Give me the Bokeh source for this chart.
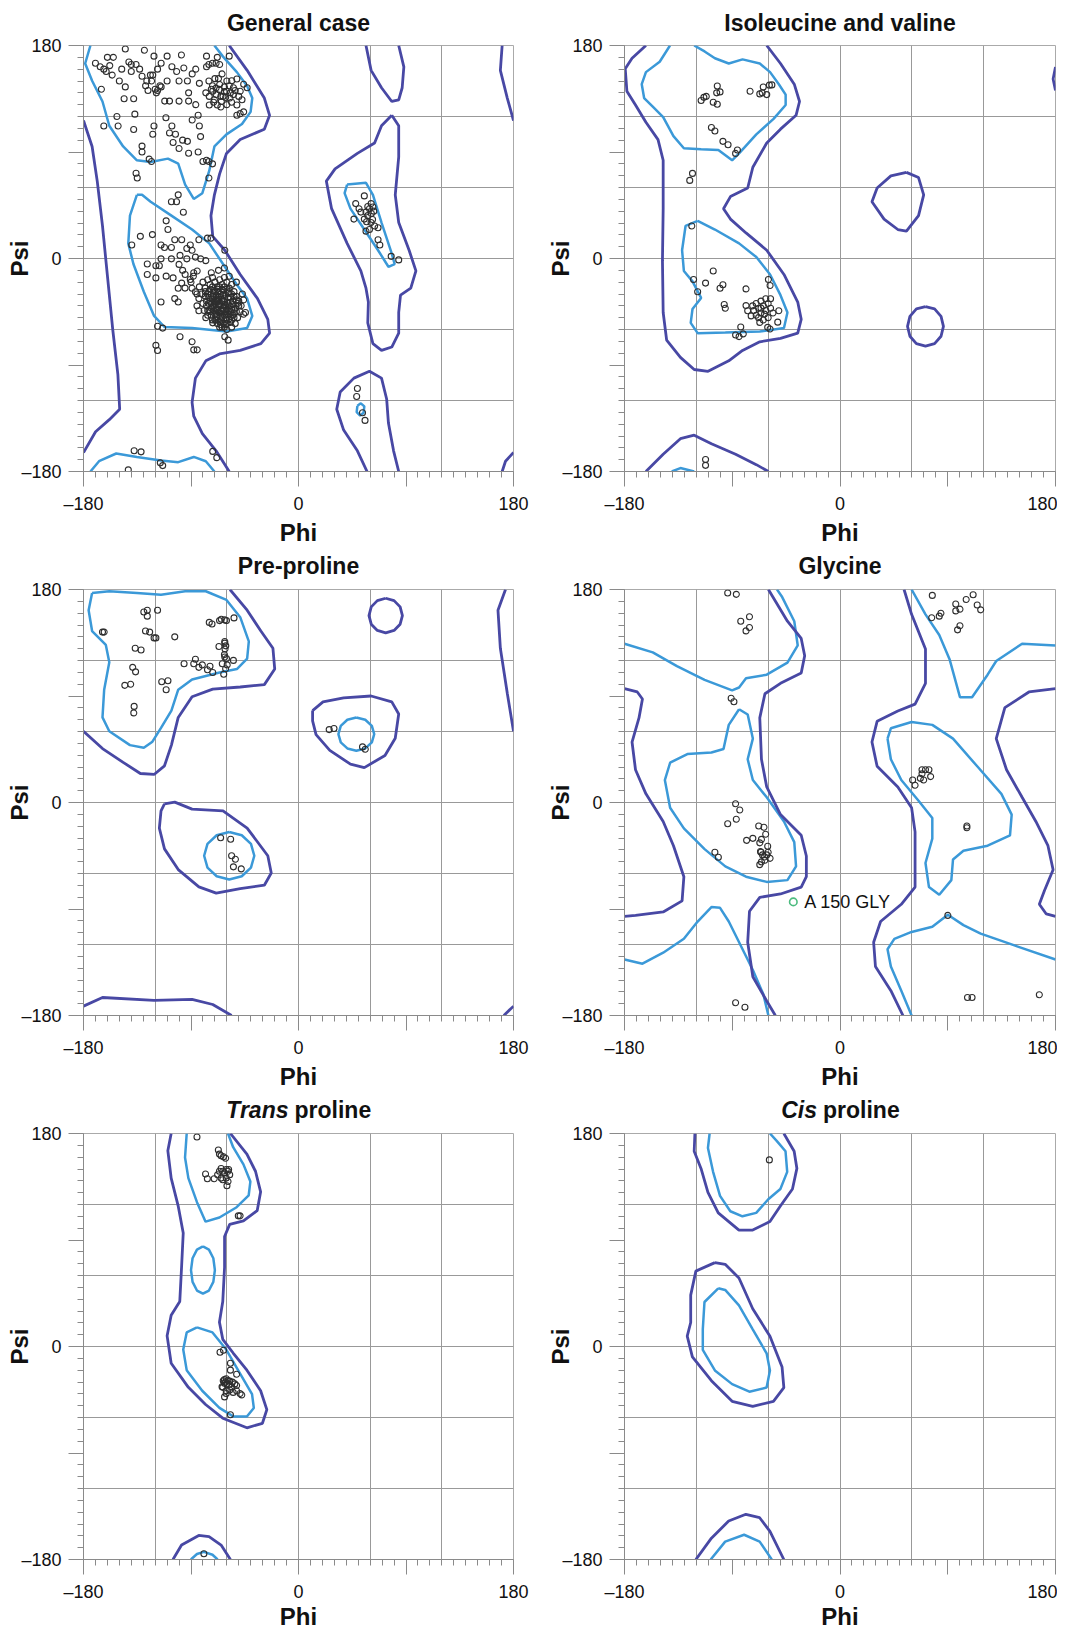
from bokeh.plotting import figure
from bokeh.models import Range1d, FixedTicker
from bokeh.layouts import column, row
from bokeh.embed import file_html
from bokeh.resources import INLINE
from bokeh.core.properties import value

# ---------------- data (phi, psi in degrees) ----------------
TITLES = [
    [("General case", "bold")],
    [("Isoleucine and valine", "bold")],
    [("Pre-proline", "bold")],
    [("Glycine", "bold")],
    [("Trans", "bold italic"), ("proline", "bold")],
    [("Cis", "bold italic"), ("proline", "bold")],
]
X_LABEL = [("Phi", "bold")]
Y_LABEL = "Psi"
TICKS = [-180, -90, 0, 90, 180]
TICK_LABELS = {-180: "\u2013180", -90: "", 0: "0", 90: "", 180: "180"}
MINOR_TICKS = list(range(-180, 181, 10))
GRID_TICKS = [-120, -60, 0, 60, 120]

# General case
GEN_DARK = [
    [(-58, 180), (-43, 159), (-28.6, 135.6), (-24.2, 121), (-28.6, 109.3), (-48.8, 100.5), (-60.3, 88.8),
     (-66.1, 71.3), (-70.4, 53.8), (-73.3, 36.2), (-71.8, 18.7), (-61.7, 7), (-48.8, -13.5), (-34.3, -33.9),
     (-25.7, -51.4), (-24.2, -63.1), (-31.5, -71.9), (-48.8, -77.7), (-66.1, -80.7), (-77.6, -86.5),
     (-86.3, -101.1), (-89.1, -121.6), (-87.7, -133.3), (-80.5, -147.9), (-69, -162.5), (-58, -180)],
    [(-180, 116.6), (-172.8, 94.7), (-168.5, 65.4), (-164.1, 27.5), (-159.8, -16.4), (-155.5, -60.2),
     (-151.2, -98.2), (-149.7, -127.4), (-158.4, -136.2), (-169.9, -146.4), (-180, -164)],
    [(170.5, 180), (169, 159), (174.8, 135.6), (180, 116.6)],
    [(180, -164), (173.3, -171.3), (170.5, -180)],
    [(56.5, 180), (60.8, 159), (69.5, 144.3), (78.1, 132.7), (83.9, 134.1), (86.8, 144.3), (88.2, 161.9), (83.9, 180)],
    [(57.4, -180), (49.3, -162.5), (37.8, -145), (32, -127.4), (34.9, -112.8), (46.4, -101.1), (59.4, -95.3),
     (69.5, -101.1), (73.8, -118.7), (75.3, -139.1), (79.6, -162.5), (83.9, -180)],
    [(78.1, 121), (83.9, 112.2), (83.9, 85.9), (81, 53.8), (83.9, 30.4), (92.6, 7), (98.3, -10.5), (94, -25.1),
     (85.4, -31), (83.9, -45.6), (83.9, -63.1), (78.1, -74.8), (69.5, -77.7), (62.3, -71.9), (58, -54.4),
     (58.5, -36.8), (56.5, -25.1), (52.2, -10.5), (40.7, 12.8), (27.7, 42.1), (23.3, 65.4), (30.6, 75.7),
     (49.3, 88.8), (63.7, 97.6), (69.5, 112.2), (78.1, 121)],
]
GEN_LIGHT = [
    [(-174.2, 180), (-178.6, 164.8), (-172.8, 150.2), (-164.1, 132.7), (-158.4, 112.2), (-146.8, 94.7),
     (-135.3, 83), (-123.8, 81.5), (-109.3, 84.4), (-100.7, 80.1), (-94.9, 62.5), (-87.7, 50.3), (-80.5, 55.2),
     (-74.7, 74.2), (-70.4, 94.7), (-60.3, 104.9), (-47.3, 113.7), (-40.1, 123.9), (-38.7, 135.6), (-43, 145.8),
     (-51.6, 157.5), (-63.2, 170.6), (-70.4, 180)],
    [(-135.3, 53.8), (-141.1, 36.2), (-142.5, 12.8), (-138.2, -4.7), (-129.5, -28.1), (-120.9, -48.5),
     (-112.2, -57.9), (-89.1, -58.8), (-60.3, -61.7), (-43, -58.8), (-38.7, -48.5), (-43, -33.9), (-51.6, -22.2),
     (-63.2, -4.7), (-74.7, 12.8), (-89.1, 24.5), (-106.4, 36.2), (-123.8, 47.9), (-131, 53.8), (-135.3, 53.8)],
    [(-174.2, -180), (-167, -171.3), (-152.6, -164.8), (-135.3, -167.7), (-115.1, -170.7), (-100.7, -172.1),
     (-87.7, -167.7), (-77.6, -171.3), (-70.4, -180)],
    [(40.7, 62.5), (56.5, 64), (62.3, 53.8), (69.5, 30.4), (78.1, 4.1), (80.5, -4.7), (75.3, -7), (66.6, 7),
     (55.1, 24.5), (43.5, 42.1), (38.6, 55.2), (40.7, 62.5)],
    [(49.3, -124.5), (52.2, -122.4), (55.1, -125), (54.5, -130.3), (51.6, -132.7), (48.7, -129.8), (49.3, -124.5)],
]
GEN_PTS = [
    (-170, 165), (-166, 162), (-163, 160), (-161, 158), (-158, 163), (-156, 155), (-165, 143), (-163, 112),
    (-151, 112), (-152, 120), (-146, 135), (-145, 177), (-148, 160), (-140, 164), (-136, 164), (-138, 135),
    (-138, 109), (-137, 122), (-136, 72), (-135, 68), (-131, 95), (-131, 90), (-129, 176), (-131, 154),
    (-124, 155), (-122, 155), (-123, 150), (-121, 171), (-120, 143), (-118, 142), (-115, 145), (-125, 84),
    (-123, 82), (-122, 105), (-121, 112), (-115, 165), (-112, 133), (-108, 133), (-100, 133), (-110, 171),
    (-111, 119), (-106, 112), (-108, 106), (-103, 105), (-105, 98), (-100, 93), (-97, 100), (-96, 161),
    (-93, 150), (-92, 140), (-92, 133), (-92, 89), (-93, 99), (-89, 117), (-86, 130), (-84, 121), (-83, 112),
    (-82, 103), (-84, 90), (-80, 82), (-77, 83), (-75, 82), (-72, 80), (-75, 68), (-89, 156), (-77, 171),
    (-68, 170), (-58, 171), (-77, 162), (-75, 164), (-72, 165), (-69, 165), (-66, 164),
    (-77.6, 140), (-74.7, 137), (-71.8, 141.4), (-70.4, 134.1), (-69, 138.5), (-66.1, 142.9), (-64.6, 132.7),
    (-63.2, 137), (-60.3, 141.4), (-68, 129.7), (-74.7, 129.7), (-57.4, 135.6), (-54.5, 138.5), (-48.8, 141.4),
    (-47.3, 134.1), (-51.6, 129.7), (-51.6, 121), (-48.8, 122.4), (-45.9, 123.9), (-54.5, 144.3),
    (-55.9, 150.2), (-51.6, 151.7), (-45.9, 147.3), (-43, 144.3), (-62, 145), (-66, 147), (-72, 146),
    (-60, 150), (-64, 156), (-70, 152), (-140, 158), (-142, 166), (-133, 160), (-128, 146), (-100, 150),
    (-102, 158), (-106, 162), (-118, 160), (-150, 150), (-155, 170), (-160, 170), (-145, 145), (-110, 150),
    (-98, 172), (-86, 160), (-83, 148),
    (-73, 143), (-69, 144), (-65, 137), (-61, 136), (-57, 140), (-53, 142), (-50, 137), (-56, 132), (-60, 130),
    (-65, 128), (-71, 132), (-75, 150), (-67, 152), (-62, 141), (-58, 146), (-126, 142), (-119, 140),
    (-116, 146), (-127, 150),
    (-100.7, 53.8), (-102.1, 47.9), (-106.4, 47.9), (-96.4, 39.1), (-110.8, 31.8), (-109.3, 24.5),
    (-132.4, 18.7), (-122.3, 20.2), (-139.6, 11.4), (-115.1, 11.4), (-112.2, 9.3), (-106.4, 9.3),
    (-103.6, 15.8), (-97.8, 15.8), (-90.6, 11.4), (-93.5, 8.5), (-83.4, 15.8), (-76.2, 17.2), (-73.3, 17.2),
    (-61.7, 7), (-126.6, -4.7), (-119.4, -6.1), (-116.5, -6.1), (-115.1, -0.3), (-106.4, -0.3), (-99.2, 2.6),
    (-93.5, -0.3), (-89.1, 7), (-86.3, 1.2), (-81.9, -0.3), (-77.6, -1.8), (-126.6, -13.5), (-119.4, -16.4),
    (-110.8, -14.9), (-105, -16.4), (-100.7, -25.1), (-97.8, -20.8), (-94.9, -13.5), (-90.6, -17.8),
    (-87.7, -12), (-84.8, -10.5), (-103.6, -33.9), (-100.7, -36.8), (-115.1, -36.8), (-89.1, -25.1),
    (-86.3, -28.1), (-83.4, -33.9), (-83.4, -44.1), (-77.6, -50), (-71.8, -54.4), (-45.9, -47.1),
    (-44.4, -45.6), (-118, -57.3), (-113.7, -58.8), (-99.2, -66.1), (-89.1, -70.4), (-84.8, -77.2),
    (-87.7, -77.2), (-119.4, -73.4), (-118, -77.7), (-61.7, -66.1), (-58.9, -69),
    (-80, -20), (-78, -25), (-76, -18), (-74, -22), (-72, -16), (-70, -20), (-68, -24), (-66, -18), (-64, -22),
    (-62, -16), (-60, -20), (-58, -25), (-56, -22), (-54, -28), (-52, -32), (-50, -36), (-48, -40), (-49, -45),
    (-51, -50), (-53, -55), (-56, -58), (-60, -60), (-64, -58), (-68, -55), (-72, -52), (-76, -48), (-79, -44),
    (-80, -38), (-78, -32), (-75, -28), (-73, -30), (-71, -27), (-69, -31), (-67, -28), (-65, -30), (-63, -27),
    (-61, -31), (-59, -29), (-57, -33), (-55, -36), (-74, -36), (-72, -34), (-70, -37), (-68, -35), (-66, -38),
    (-64, -36), (-62, -39), (-60, -37), (-58, -40), (-56, -43), (-73, -42), (-71, -40), (-69, -43), (-67, -41),
    (-65, -44), (-63, -42), (-61, -45), (-59, -47), (-57, -45), (-55, -48), (-70, -47), (-68, -49), (-66, -46),
    (-64, -50), (-62, -48), (-60, -52), (-58, -51), (-66, -53), (-63, -55), (-70, -52), (-77, -40), (-75, -44),
    (-53, -42), (-51, -38), (-54, -46), (-65, -33), (-67, -39), (-62, -34), (-69, -34), (-60, -43), (-83, -24),
    (-85, -30), (-81, -30), (-73, -12), (-67, -10), (-62, -8), (-58, -15), (-52, -20), (-47, -30), (-46, -35),
    (-85, -40), (-88, -15), (-90, -20), (-95, -25), (-97, -10), (-100, -5),
    (-76, -30), (-74, -26), (-72, -24), (-70, -28), (-68, -26), (-66, -24), (-64, -26), (-62, -24), (-60, -26),
    (-58, -28), (-56, -30), (-54, -32), (-52, -35), (-50, -40), (-52, -45), (-54, -50), (-57, -54), (-61, -56),
    (-65, -56), (-69, -52), (-73, -48), (-76, -44), (-77, -36), (-75, -33), (-71, -32), (-67, -32), (-63, -31),
    (-59, -33), (-55, -39), (-57, -37), (-61, -40), (-65, -40), (-69, -39), (-73, -38), (-71, -44), (-67, -45),
    (-63, -44), (-59, -44), (-57, -49), (-61, -50), (-65, -49), (-69, -46), (-72, -41), (-75, -38), (-78, -28),
    (-60, -55), (-56, -52), (-62, -58), (-66, -58), (-54, -43), (-63, -36), (-67, -36), (-71, -36), (-59, -38),
    (-64, -45), (-68, -44), (-61, -47), (-65, -52), (-69, -49), (-74, -45),
    (55.1, 52.9), (47.9, 46.4), (50.7, 42.1), (52.2, 39.2), (56.5, 39.2), (59.4, 42.1), (60.8, 46.4),
    (62.3, 43.5), (58, 36.2), (55.1, 33.3), (46.4, 33.3), (60.8, 30.4), (63.7, 27.5), (66.6, 26), (59.4, 24.5),
    (56.5, 23.1), (66.6, 15.8), (68.1, 11.4), (77.6, 1.8), (83.9, -1.2), (61, 38), (63, 40), (58, 44), (57, 31),
    (62, 33),
    (49.3, -109.9), (48.7, -116.6), (53.6, -130.3), (55.7, -136.8),
    (-137.6, -162.5), (-131.8, -163.4), (-142.5, -178.6), (-115.7, -172.7), (-113.7, -175), (-71.8, -163),
    (-68.4, -168.3),
]

# Isoleucine and valine
ILE_DARK = [
    [(-162.1, 180), (-173.7, 169.2), (-179.4, 160.4), (-178, 141.4), (-170.8, 129.7), (-162.1, 115.1),
     (-152, 100.5), (-147.7, 83), (-147.7, 42.1), (-148.3, -1.8), (-147.7, -45.6), (-144.8, -69),
     (-133.3, -83.6), (-121.8, -93.8), (-110.2, -95.3), (-92.9, -86.5), (-81.4, -77.7), (-67, -70.4),
     (-49.7, -67.5), (-35.3, -63.1), (-32.4, -51.4), (-35.3, -36.8), (-46.8, -13.5), (-61.2, 7), (-78.5, 21.6),
     (-91.5, 33.3), (-97.3, 42.1), (-91.5, 52.3), (-77.1, 59.6), (-72.8, 77.1), (-61.2, 97.6), (-49.7, 109.3),
     (-36.7, 121), (-33.8, 132.7), (-38.2, 147.3), (-49.7, 164.8), (-61.2, 180)],
    [(180, 161.9), (178, 151.7), (180, 142)],
    [(-162.1, -180), (-147.7, -165.4), (-133.3, -152.3), (-121.8, -149.3), (-107.4, -156.6), (-87.2, -165.4),
     (-69.9, -174.2), (-59.8, -180)],
    [(55.5, 72.8), (65.6, 68.4), (69.9, 53.8), (65.6, 36.2), (55.5, 23.1), (48.3, 24.5), (36.8, 33.3),
     (26.7, 47.9), (31, 59.6), (42.5, 69.8), (55.5, 72.8)],
    [(71.4, -40.6), (79, -42.6), (84.4, -48.9), (86.4, -57.3), (84.4, -65.7), (79, -72), (71.4, -74),
     (63.8, -72), (58.4, -65.7), (56.4, -57.3), (58.4, -48.9), (63.8, -42.6), (71.4, -40.6)],
]
ILE_LIGHT = [
    [(-142, 180), (-150.6, 166.3), (-162.1, 157.5), (-165.6, 147.3), (-163.6, 135.6), (-156.4, 128.3),
     (-147.7, 119.5), (-139.1, 103.4), (-130.4, 93.2), (-116, 92.3), (-101.6, 91.7), (-90.1, 83), (-84.3, 88.8),
     (-69.9, 104.9), (-55.5, 118), (-45.4, 129.7), (-45.4, 138.5), (-51.1, 147.3), (-58.4, 157.5), (-67, 164.8),
     (-81.4, 168.3), (-92.9, 164.8), (-104.5, 169.2), (-113.1, 175), (-121.8, 180)],
    [(-140.5, -180), (-133.3, -177.1), (-121.8, -180)],
    [(-118.9, 31.8), (-129, 27.5), (-131.9, 7), (-130.4, -10.5), (-123.2, -19.3), (-116, -33.3), (-123.2, -42.7),
     (-124.7, -54.4), (-118.9, -63.1), (-95.8, -62.5), (-67, -61.7), (-46.8, -58.8), (-43.9, -45.6), (-49.7, -31),
     (-58.4, -13.5), (-69.9, 1.2), (-84.3, 12.8), (-104.5, 24.5), (-118.9, 31.8)],
]
ILE_PTS = [
    (-102.5, 145.8), (-103, 140), (-100.2, 140.8), (-111.7, 137), (-113.7, 136.2), (-116, 133.5),
    (-105.9, 132.1), (-102.5, 130.3), (-75.1, 141.4), (-67, 139.1), (-64.1, 144.9), (-61.2, 138.5),
    (-56.9, 146.7), (-59, 146.5), (-65, 140), (-107.4, 110.7), (-104.5, 107.8), (-97.8, 99), (-93.5, 96.1),
    (-85.7, 91.7), (-87.2, 88.8), (-123.2, 71.9), (-125.5, 66), (-123.8, 27.5), (-105.9, -10.5),
    (-122.3, -17.8), (-112.3, -20.8), (-118.9, -28.1), (-100.2, -25.1), (-97.8, -22.2), (-78.5, -25.7),
    (-96.7, -38.9), (-95.8, -42.1), (-78.5, -39.8), (-77.1, -44.1), (-74.2, -48.5), (-59.8, -17.8),
    (-58.4, -22.8), (-51.1, -44.1), (-52, -53.8), (-82.9, -57.9), (-87.2, -64.6), (-84.3, -66), (-80.8, -63.7),
    (-60.4, -58.2), (-58.4, -59.6), (-112.3, -169.8), (-112.3, -174.8),
    (-73, -40), (-70, -38), (-68, -42), (-66, -36), (-64, -40), (-62, -44), (-60, -38), (-58, -42), (-56, -46),
    (-66, -46), (-70, -48), (-68, -50), (-64, -52), (-60, -50), (-62, -34), (-66, -42), (-72, -44), (-58, -34),
    (-63, -47), (-67, -54),
]

# Pre-proline
PRE_DARK = [
    [(-180, 60.2), (-164.1, 45.6), (-146.8, 33.9), (-132.4, 24.5), (-120.9, 23.7), (-112.2, 31), (-106.4, 48.5),
     (-100.7, 71.9), (-89.1, 89.4), (-71.8, 95.8), (-48.8, 97.6), (-28.6, 99.6), (-19.9, 112.8), (-21.4, 130.3),
     (-31.5, 144.9), (-43, 162.5), (-57.4, 180)],
    [(173.3, 180), (167, 162.5), (169, 130.3), (174.8, 92.3), (180, 60.2)],
    [(-180, -172.1), (-164.1, -164.8), (-120.9, -167.2), (-89.1, -166.3), (-71.8, -170.7), (-56, -180)],
    [(171.9, -180), (180, -172.1)],
    [(73, 172.6), (80, 170.6), (85.1, 165.3), (87, 158), (85.1, 150.7), (80, 145.4), (73, 143.4), (66, 145.4),
     (60.9, 150.7), (59, 158), (60.9, 165.3), (66, 170.6), (73, 172.6)],
    [(11.8, 77.7), (20.5, 85), (37.8, 88.5), (60.8, 90), (78.1, 85), (83.9, 74.8), (81, 54.3), (72.4, 39.7),
     (55.1, 29.5), (43.5, 32.4), (26.2, 44.1), (14.7, 57.3), (11.8, 69), (11.8, 77.7)],
    [(-112.2, -1.2), (-103.6, 0.3), (-89.1, -5.6), (-63.2, -7), (-43, -21.6), (-25.7, -45), (-22.8, -59.6),
     (-28.6, -69.9), (-48.8, -72.8), (-68.9, -76.6), (-83.4, -71.3), (-100.7, -56.7), (-112.2, -39.2),
     (-116.5, -21.6), (-115.1, -7), (-112.2, -1.2)],
]
PRE_LIGHT = [
    [(-172.8, 177.1), (-158.4, 178.5), (-135.3, 177.1), (-115.1, 175.6), (-94.9, 178.5), (-77.6, 178.5),
     (-60.3, 171.2), (-48.8, 156.6), (-41.6, 136.2), (-43, 121.6), (-51.6, 112.8), (-66.1, 109.9), (-89.1, 104),
     (-100.7, 95.3), (-106.4, 77.7), (-115.1, 63.1), (-122.3, 51.4), (-129.5, 46.2), (-141.1, 48.5),
     (-158.4, 60.2), (-164.1, 71.9), (-162.7, 95.3), (-158.4, 118.6), (-161.3, 133.2), (-172.8, 144.9),
     (-175.7, 162.5), (-172.8, 177.1)],
    [(48.4, 71.8), (55.9, 69.9), (61.4, 64.8), (63.4, 57.8), (61.4, 50.8), (55.9, 45.7), (48.4, 43.8),
     (40.9, 45.7), (35.4, 50.8), (33.4, 57.8), (35.4, 64.8), (40.9, 69.9), (48.4, 71.8)],
    [(-58, -25), (-47.5, -27.7), (-39.8, -35), (-37, -45), (-39.8, -55), (-47.5, -62.3), (-58, -65),
     (-68.5, -62.3), (-76.2, -55), (-79, -45), (-76.2, -35), (-68.5, -27.7), (-58, -25)],
]
PRE_PTS = [
    (-162.7, 144), (-164.1, 144), (-129.5, 161), (-126.6, 162.5), (-126.6, 157.5), (-118, 162.5),
    (-128.1, 144.9), (-124.6, 144), (-120.9, 139.1), (-119.4, 139.1), (-103.6, 140), (-136.7, 130.3),
    (-131.8, 128.9), (-138.8, 114.2), (-136.4, 110.4), (-145.4, 99), (-140.5, 99.9), (-137.6, 81.2),
    (-137.9, 75.7), (-114.5, 102), (-109.3, 102.9), (-110.8, 95.3), (-95.8, 117.2), (-87.7, 117.2),
    (-86.3, 121), (-83.4, 114.2), (-80.5, 116.3), (-76.2, 112.2), (-74.1, 115.1), (-71.8, 109.9),
    (-74.7, 152.2), (-72.4, 150.8), (-66.1, 153.7), (-64.6, 154.9), (-61.7, 154.3), (-60.3, 153.7), (-54, 156),
    (-66.6, 131.8), (-61.7, 134.7), (-60.9, 132.4), (-61.5, 129.7), (-61.7, 123), (-60.3, 121.6),
    (-54.5, 120.1), (-63.8, 117.2), (-59.7, 116.3), (-62.6, 108.4), (-61.7, 136), (-62, 125), (-61, 113),
    (25.7, 61.6), (29.7, 62.5), (53.6, 47), (55.9, 45),
    (-65.2, -29.8), (-56.8, -31), (-56, -45), (-52.8, -47.9), (-54.5, -54.4), (-47.9, -56.1),
]

# Glycine
GLY_DARK = [
    [(-59.8, 180), (-43.9, 153.2), (-32.4, 138.6), (-29.5, 124), (-32.4, 109.4), (-49.7, 100.7), (-62.7, 91.9),
     (-67, 71.5), (-65.6, 36.5), (-61.2, 13.1), (-49.7, -10.2), (-32.4, -27.7), (-28.1, -45.2), (-28.1, -62.7),
     (-32.4, -71.5), (-49.7, -77.3), (-67, -80.2), (-75.6, -91.9), (-77.1, -118.1), (-72.8, -147.3),
     (-61.2, -167.7), (-54, -180)],
    [(-180, 96.3), (-169.3, 93.4), (-165, 87.5), (-167.9, 71.5), (-173.7, 51.1), (-170.8, 27.7), (-162.1, 7.3),
     (-147.7, -16), (-139.1, -36.5), (-130.4, -62.7), (-131.9, -83.1), (-147.7, -92.5), (-170.8, -95.4),
     (-180, -96.3)],
    [(180, 96.3), (157.8, 93.4), (137.7, 80.2), (130.5, 54), (139.1, 27.7), (152.1, 4.4), (163.6, -16),
     (173.7, -36.5), (178, -56.9), (170.8, -74.4), (166.5, -86), (172.3, -94.2), (180, -96.3)],
    [(53.5, 180), (59.8, 159), (71.4, 129.8), (71.4, 100.7), (62.7, 83.1), (48.3, 77.3), (31, 68.6), (26.7, 51.1),
     (31, 30.6), (48.3, 13.1), (59.8, -4.4), (62.7, -24.8), (62.7, -45.2), (62.7, -71.5), (51.2, -86),
     (33.9, -100.6), (28.1, -118.1), (29.6, -138.6), (42.5, -159), (52.6, -180)],
]
GLY_LIGHT = [
    [(-180, 134.2), (-156.4, 126.9), (-136.2, 115.2), (-113.1, 103.6), (-90.1, 94.8), (-84.3, 97.2),
     (-78.5, 105), (-61.2, 108), (-43.9, 118.2), (-35.3, 132.7), (-38.2, 153.2), (-48.3, 173.6), (-52.6, 180)],
    [(59.8, 180), (71.4, 159), (82.9, 141.5), (91.5, 121.1), (100.2, 89), (110.3, 89), (123.3, 108),
     (130.5, 119.6), (152.1, 134.2), (180, 132.7)],
    [(-84.3, 78.8), (-77.1, 74.4), (-72.8, 54), (-77.1, 36.5), (-72.8, 19), (-61.2, 4.4), (-46.8, -16),
     (-38.2, -33.5), (-36.7, -54), (-43.9, -65.6), (-61.2, -67.1), (-78.5, -62.7), (-95.8, -54), (-113.1, -39.4),
     (-130.4, -21.9), (-141.9, -4.4), (-146.3, 19), (-141.9, 33.6), (-127.5, 40.9), (-107.4, 42.3),
     (-97.3, 45.2), (-92.9, 65.6), (-84.3, 78.8)],
    [(39.7, 54), (42.5, 62.7), (59.8, 68), (77.1, 65.6), (94.4, 54), (114.6, 30.6), (134.8, 7.3), (143.4, -10.2),
     (142, -27.7), (123.3, -36.5), (103.1, -40.8), (94.4, -48.1), (93, -65.6), (82.9, -77.9), (74.3, -71.5),
     (71.4, -51.1), (77.1, -30.6), (77.1, -13.1), (65.6, 1.5), (51.2, 19), (42.5, 36.5), (39.7, 54)],
    [(-180, -132.7), (-165, -136.2), (-147.7, -126.9), (-130.4, -115.2), (-118.9, -100.6), (-107.4, -88.4),
     (-100.2, -89), (-92.9, -100.6), (-84.3, -118.1), (-72.8, -141.5), (-64.1, -161.9), (-59.8, -180)],
    [(59.8, -180), (51.2, -159), (42.5, -138.6), (39.7, -124), (45.4, -115.2), (59.8, -109.4), (77.1, -105),
     (90.1, -94.8), (103.1, -103.6), (117.5, -110.8), (146.3, -121), (180, -132.7)],
]
GLY_PTS = [
    (-93.8, 177.1), (-86.6, 175.9), (-82.9, 153.2), (-75.6, 157), (-78.5, 145), (-75.6, 147.9), (-90.9, 88.1),
    (-88.6, 85.2), (-87.2, -1.1), (-83.7, -6.4), (-93.8, -17.9), (-86.6, -14.2), (-67.9, -19.8), (-63.5, -20.9),
    (-62.1, -26.8), (-65.6, -31.2), (-67, -34.1), (-78, -32), (-72.8, -30.3), (-60.4, -37), (-66.4, -41.4),
    (-64.7, -44.3), (-61.2, -44.3), (-58.4, -47.2), (-62.7, -48.8), (-65.6, -50.2), (-67, -52.5), (-66, -42),
    (-63, -46), (-60, -42), (-104.5, -42), (-101.6, -46.3), (-87.2, -169.2), (-79.4, -173),
    (60.7, 19), (62.7, 14.6), (68.5, 27.7), (71.4, 27.7), (74.3, 27.7), (67.1, 20.4), (69.9, 19), (75.7, 21.9),
    (68.5, 24.2), (77.1, 175), (76.6, 156.1), (82.9, 157.5), (84.3, 159.9), (96.7, 167.7), (96.7, 161.9),
    (100.2, 163.4), (105.4, 171.5), (111.2, 175.6), (114.6, 166.9), (117.5, 162.8), (100.2, 149.4),
    (98.2, 145.9), (106, -19.8), (106, -21.3), (90.1, -95.4), (106.5, -164.8), (110.3, -164.8), (166.5, -162.5),
]
GLY_OUTLIER = (-39, -84)
GLY_OUTLIER_LABEL = "A 150 GLY"

# Trans proline
TRANS_DARK = [
    [(-106.6, 180), (-109.4, 165.5), (-106.6, 142.3), (-100.8, 119.1), (-96.5, 95.9), (-97.9, 67), (-99.4, 38),
     (-106.6, 26.4), (-110, 9), (-106.6, -14.2), (-92.2, -34.5), (-77.8, -49), (-63.4, -60.6), (-43.2, -68.7),
     (-30.2, -64.9), (-26.5, -53.3), (-31.7, -37.4), (-43.2, -20), (-54.7, -5.5), (-63.4, 6.1), (-66.2, 20.6),
     (-63.4, 38), (-61.9, 67), (-61.9, 93), (-57.6, 103.2), (-46.1, 106.1), (-34.6, 114.8), (-31.7, 130.7),
     (-36, 148.1), (-43.2, 162.6), (-57, 180)],
    [(-105.1, -180), (-97.9, -167.8), (-83.5, -159.7), (-74.9, -160.6), (-64.8, -167.8), (-57, -180)],
]
TRANS_LIGHT = [
    [(-93.6, 180), (-95, 159.7), (-92.2, 142.3), (-85, 122), (-77.8, 105.5), (-66.2, 109), (-51.8, 117.7),
     (-41.7, 127.8), (-40.3, 139.4), (-46.1, 153.9), (-54.7, 168.4), (-59, 180)],
    [(-80, 84.6), (-75, 81.9), (-71.3, 74.6), (-70, 64.6), (-71.3, 54.6), (-75, 47.3), (-80, 44.6), (-85, 47.3),
     (-88.7, 54.6), (-90, 64.6), (-88.7, 74.6), (-85, 81.9), (-80, 84.6)],
    [(-85, 16.2), (-72, 11.9), (-60.5, -2.6), (-48.9, -22.9), (-38.9, -40.3), (-37.4, -51.9), (-43.2, -59.1),
     (-54.7, -59.1), (-66.2, -51.9), (-80.6, -37.4), (-93.6, -20), (-96.5, -2.6), (-93.6, 11.9), (-85, 16.2)],
    [(-90.1, -180), (-85, -175.4), (-79.2, -173.6), (-72, -176), (-67.7, -180)],
]
TRANS_PTS = [
    (-85, 177.1), (-67.1, 166.1), (-66.2, 162.6), (-64.8, 161.2), (-62.8, 160.3), (-61, 159.1), (-77.8, 145.8),
    (-76.3, 141.7), (-70.6, 141.7), (-67.7, 145.2), (-66.2, 148.1), (-64.8, 150.4), (-63.4, 148.1),
    (-61.9, 146.7), (-60.5, 149.6), (-59, 148.1), (-57.6, 145.2), (-60.5, 142.3), (-63.4, 140.9),
    (-64.8, 142.3), (-59, 139.4), (-59.9, 135.9), (-58.5, 149.6), (-50.4, 110.4), (-48.9, 110.4),
    (-65.7, -4.9), (-62.8, -3.2), (-57, -14.2), (-57, -20), (-51.8, -23.5), (-60.5, -27.2), (-59, -28.7),
    (-57.6, -29.3), (-55.3, -30.1), (-53.3, -31.6), (-51.8, -33), (-63.4, -34.5), (-60.5, -37.4), (-57.6, -36.8),
    (-54.7, -38.8), (-51.8, -37.4), (-48.9, -39.7), (-47.5, -40.9), (-61.9, -42.6), (-60.5, -39.7), (-57, -57.7),
    (-62, -28), (-61, -30), (-63, -29), (-60, -32), (-62, -31), (-64, -34), (-56, -34), (-58, -32),
    (-79.2, -175.1),
]

# Cis proline
CIS_DARK = [
    [(-121.2, 180), (-121.8, 165), (-116.1, 150.5), (-110.3, 130.2), (-101.7, 112.9), (-84.4, 98.4),
     (-72.9, 98.4), (-58.5, 105.6), (-49.8, 118.7), (-39.7, 133.1), (-36, 150.5), (-38.3, 165), (-46.9, 180)],
    [(-104.5, 70.9), (-120.4, 63.7), (-124.7, 43.4), (-124.7, 20.3), (-127.6, 8.7), (-123.3, -8.7),
     (-107.4, -28.9), (-90.1, -46.3), (-72.9, -50.6), (-55.6, -46.3), (-46.9, -34.7), (-48.4, -17.3),
     (-58.5, 8.7), (-72.9, 31.9), (-84.4, 57.9), (-95.9, 69.5), (-104.5, 70.9)],
    [(-120.4, -180), (-107.4, -162), (-93, -147.5), (-78.6, -141.8), (-67.1, -144.7), (-58.5, -156.2),
     (-46.9, -180)],
]
CIS_LIGHT = [
    [(-108.9, 180), (-110.3, 167.8), (-106, 147.6), (-100.2, 127.3), (-91.6, 114.3), (-81.5, 110), (-70, 112.9),
     (-59.9, 124.4), (-49.8, 133.1), (-44.1, 147.6), (-45.5, 165), (-52.7, 173.6), (-58.5, 180)],
    [(-101.7, 49.2), (-113.2, 37.6), (-114.6, 14.5), (-114.6, -2.9), (-104.5, -20.2), (-90.1, -31.8),
     (-75.7, -38.2), (-61.3, -34.7), (-58.5, -20.2), (-61.3, -5.8), (-72.9, 14.5), (-84.4, 34.7), (-95.9, 47.8),
     (-101.7, 49.2)],
    [(-108, -180), (-95.9, -164.9), (-80.1, -159.1), (-67.1, -164.9), (-57, -180)],
]
CIS_PTS = [(-59, 157.7)]

# ---------------- styling ----------------
FONT = "Liberation Sans"
DARK = "#4848a4"
LIGHT = "#3b99d8"
PT_COLOR = "#2e2e2e"
GRID_COLOR = "#999999"
AXIS_COLOR = "#8a8a8a"

MBL = 83                       # left border of every figure (frame starts here)
FRAME_W = (430, 431)           # frame widths of left / right column
MBR = (28, 2)                  # right borders of left / right column
TOP_B, FRAME_H, BOT_B = 10, 427, 44
TOP_H, SEP_H, END_H = 35, 63, 26
TITLE_Y_TOP, PHI_Y_SEP, TITLE_Y_SEP, PHI_Y_END = 22, 16, 49, 12


def style_axis(ax):
    ax.ticker = FixedTicker(ticks=TICKS, minor_ticks=MINOR_TICKS)
    ax.major_label_overrides = TICK_LABELS
    ax.major_tick_out = 15
    ax.major_tick_in = 0
    ax.minor_tick_out = 6
    ax.minor_tick_in = 0
    ax.major_label_standoff = 7
    ax.axis_line_color = AXIS_COLOR
    ax.major_tick_line_color = AXIS_COLOR
    ax.minor_tick_line_color = AXIS_COLOR
    ax.major_label_text_font = FONT
    ax.major_label_text_font_size = "18px"
    ax.major_label_text_color = "#111111"


def text_fig(col, height, entries):
    """A strip with no axes; entries = list of (px from top, parts, font size)."""
    w = MBL + FRAME_W[col] + MBR[col]
    t = figure(width=w, height=height, x_range=Range1d(-180, 180), y_range=Range1d(height, 0),
               output_backend="svg", toolbar_location=None, title=None,
               x_axis_location=None, y_axis_location=None,
               min_border_left=MBL, min_border_right=MBR[col], min_border_top=0, min_border_bottom=0)
    t.xgrid.visible = False
    t.ygrid.visible = False
    t.outline_line_color = None
    for ypx, parts, size in entries:
        common = dict(text_baseline="middle", text_font=value(FONT), text_font_size=size,
                      text_color="#111111")
        if len(parts) == 1:
            txt, st = parts[0]
            t.text(x=[0], y=[ypx], text=[txt], text_align="center", text_font_style=st, **common)
        else:
            (t1, s1), (t2, s2) = parts
            split = -10 if t1 == "Trans" else -23
            t.text(x=[0], y=[ypx], text=[t1], text_align="right", x_offset=split,
                   text_font_style=s1, **common)
            t.text(x=[0], y=[ypx], text=[t2], text_align="left", x_offset=split + 6,
                   text_font_style=s2, **common)
    return t


def make_panel(col, dark, light, pts, extra=None):
    w = MBL + FRAME_W[col] + MBR[col]
    p = figure(width=w, height=TOP_B + FRAME_H + BOT_B, x_range=Range1d(-180, 180),
               y_range=Range1d(-180, 180), output_backend="svg", toolbar_location=None, title=None,
               min_border_left=MBL, min_border_right=MBR[col], min_border_top=TOP_B,
               min_border_bottom=BOT_B)
    p.outline_line_color = "#aaaaaa"
    style_axis(p.xaxis[0])
    style_axis(p.yaxis[0])
    ya = p.yaxis[0]
    ya.axis_label = Y_LABEL
    ya.axis_label_text_font = FONT
    ya.axis_label_text_font_size = "24px"
    ya.axis_label_text_font_style = "bold"
    ya.axis_label_text_color = "#111111"
    ya.axis_label_standoff = -15
    p.xgrid.ticker = FixedTicker(ticks=GRID_TICKS)
    p.ygrid.ticker = FixedTicker(ticks=GRID_TICKS)
    for g in (p.xgrid[0], p.ygrid[0]):
        g.grid_line_color = GRID_COLOR
        g.grid_line_width = 1

    p.multi_line(xs=[[q[0] for q in c] for c in light], ys=[[q[1] for q in c] for c in light],
                 line_color=LIGHT, line_width=2.5)
    p.multi_line(xs=[[q[0] for q in c] for c in dark], ys=[[q[1] for q in c] for c in dark],
                 line_color=DARK, line_width=2.8)
    p.scatter(x=[q[0] for q in pts], y=[q[1] for q in pts], marker="circle", size=6,
              fill_color=None, line_color=PT_COLOR, line_width=1.1)
    if extra is not None:
        (ox, oy), txt = extra
        p.scatter(x=[ox], y=[oy], marker="circle", size=7.5, fill_color=None,
                  line_color="#4cbb7f", line_width=1.6)
        p.text(x=[ox], y=[oy], text=[txt], x_offset=11, text_baseline="middle", text_align="left",
               text_font=value(FONT), text_font_size="18px", text_color="#111111")
    return p


def build_column(col, titles, panels):
    items = [text_fig(col, TOP_H, [(TITLE_Y_TOP, titles[0], "23px")])]
    for k, (dark, light, pts, extra) in enumerate(panels):
        items.append(make_panel(col, dark, light, pts, extra))
        if k < len(panels) - 1:
            items.append(text_fig(col, SEP_H, [(PHI_Y_SEP, X_LABEL, "24px"),
                                               (TITLE_Y_SEP, titles[k + 1], "23px")]))
        else:
            items.append(text_fig(col, END_H, [(PHI_Y_END, X_LABEL, "24px")]))
    return column(*items)


left = build_column(0, [TITLES[0], TITLES[2], TITLES[4]],
                    [(GEN_DARK, GEN_LIGHT, GEN_PTS, None),
                     (PRE_DARK, PRE_LIGHT, PRE_PTS, None),
                     (TRANS_DARK, TRANS_LIGHT, TRANS_PTS, None)])
right = build_column(1, [TITLES[1], TITLES[3], TITLES[5]],
                     [(ILE_DARK, ILE_LIGHT, ILE_PTS, None),
                      (GLY_DARK, GLY_LIGHT, GLY_PTS, (GLY_OUTLIER, GLY_OUTLIER_LABEL)),
                      (CIS_DARK, CIS_LIGHT, CIS_PTS, None)])

layout = row(left, right)
open("out.html", "w").write(file_html(layout, INLINE))
